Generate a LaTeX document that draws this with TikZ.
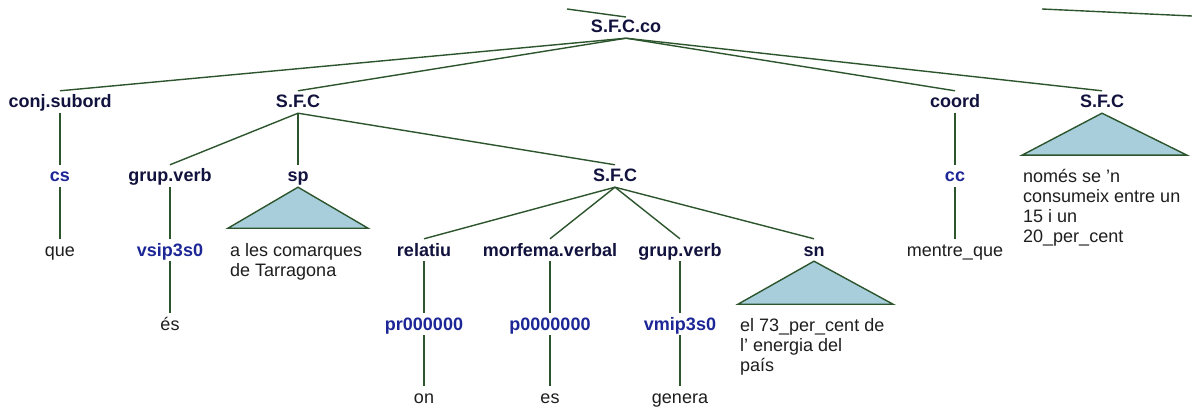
\documentclass[tikz,border=0pt]{standalone}
\usepackage{fontspec}
\setmainfont{Liberation Sans}
\definecolor{navy}{RGB}{18,18,62}
\definecolor{tagblue}{RGB}{28,38,150}
\definecolor{wordc}{RGB}{30,30,30}
\definecolor{linec}{RGB}{45,85,45}
\definecolor{trifill}{RGB}{168,206,220}
\begin{document}
\begin{tikzpicture}[x=1pt,y=-1pt,
  lab/.style={font=\fontsize{18}{20}\selectfont\bfseries, text=navy, anchor=base,
    inner xsep=0pt, inner ysep=1pt, text height=16pt, text depth=4pt},
  tag/.style={lab, text=tagblue},
  word/.style={lab, font=\fontsize{18}{20}\selectfont, text=wordc},
  phrase/.style={font=\fontsize{18}{20}\selectfont, text=wordc, anchor=base west,
    inner sep=0pt, align=left},
  edge/.style={draw=linec, line width=1.4pt},
  tri/.style={draw=linec, line width=1.4pt, fill=trifill, line join=miter}]
\useasboundingbox (0,0) rectangle (1192,409);
\fill[white] (0,0) rectangle (1192,409);

% level 0
\node[lab] (sfcco) at (626,33) {S.F.C.co};
% level 1
\node[lab] (conj) at (60,108) {conj.subord};
\node[lab] (sfcA) at (298,108) {S.F.C};
\node[lab] (coord) at (955,108) {coord};
\node[lab] (sfcB) at (1102,108) {S.F.C};
% level 2
\node[tag] (cs) at (60,182) {cs};
\node[lab] (gv1) at (170,182) {grup.verb};
\node[lab] (sp) at (298,182) {sp};
\node[lab] (sfcM) at (615,182) {S.F.C};
\node[tag] (cc) at (955,182) {cc};
% level 3
\node[word] (que) at (60,256) {que};
\node[tag] (vsip) at (170,256) {vsip3s0};
\node[lab] (rel) at (424,256) {relatiu};
\node[lab] (morf) at (550,256) {morfema.verbal};
\node[lab] (gv2) at (680,256) {grup.verb};
\node[lab] (sn) at (814,256) {sn};
\node[word] (mentre) at (955,256) {mentre\_que};
% level 4
\node[word] (es1) at (170,330) {és};
\node[tag] (pr) at (424,330) {pr000000};
\node[tag] (p0) at (550,330) {p0000000};
\node[tag] (vmip) at (680,330) {vmip3s0};
% level 5
\node[word] (on) at (424,403) {on};
\node[word] (es2) at (550,403) {es};
\node[word] (gen) at (680,403) {genera};

% phrases under triangles (anchor = baseline of the last line)
\node[phrase] (phsp) at (230,276) {a les comarques\\de Tarragona};
\node[phrase] (phsn) at (740,371) {el 73\_per\_cent de\\l' energia del\\país};
\node[phrase] (phB) at (1023,242) {només se 'n\\consumeix entre un\\15 i un\\20\_per\_cent};

% edges
\draw[edge] (sfcco.south) -- (conj.north);
\draw[edge] (sfcco.south) -- (sfcA.north);
\draw[edge] (sfcco.south) -- (coord.north);
\draw[edge] (sfcco.south) -- (sfcB.north);
\draw[edge] (conj.south) -- (cs.north);
\draw[edge] (cs.south) -- (que.north);
\draw[edge] (sfcA.south) -- (gv1.north);
\draw[edge] (sfcA.south) -- (sp.north);
\draw[edge] (sfcA.south) -- (sfcM.north);
\draw[edge] (gv1.south) -- (vsip.north);
\draw[edge] (vsip.south) -- (es1.north);
\draw[edge] (sfcM.south) -- (rel.north);
\draw[edge] (sfcM.south) -- (morf.north);
\draw[edge] (sfcM.south) -- (gv2.north);
\draw[edge] (sfcM.south) -- (sn.north);
\draw[edge] (rel.south) -- (pr.north);
\draw[edge] (pr.south) -- (on.north);
\draw[edge] (morf.south) -- (p0.north);
\draw[edge] (p0.south) -- (es2.north);
\draw[edge] (gv2.south) -- (vmip.north);
\draw[edge] (vmip.south) -- (gen.north);
\draw[edge] (coord.south) -- (cc.north);
\draw[edge] (cc.south) -- (mentre.north);

% triangles
\draw[tri] (sp.south) -- ++(-70,41) -- ++(140,0) -- cycle;
\draw[tri] (sn.south) -- ++(-76,43) -- ++(155,0) -- cycle;
\draw[tri] (sfcB.south) -- ++(-80,42) -- ++(165,0) -- cycle;

% fragments of edges entering from outside the picture
\coordinate (fa1) at (567,9);
\coordinate (fa2) at (626,17);
\coordinate (fb1) at (1042,9);
\coordinate (fb2) at (1192,16);
\draw[edge] (fa1) -- (fa2);
\draw[edge] (fb1) -- (fb2);
\end{tikzpicture}
\end{document}
